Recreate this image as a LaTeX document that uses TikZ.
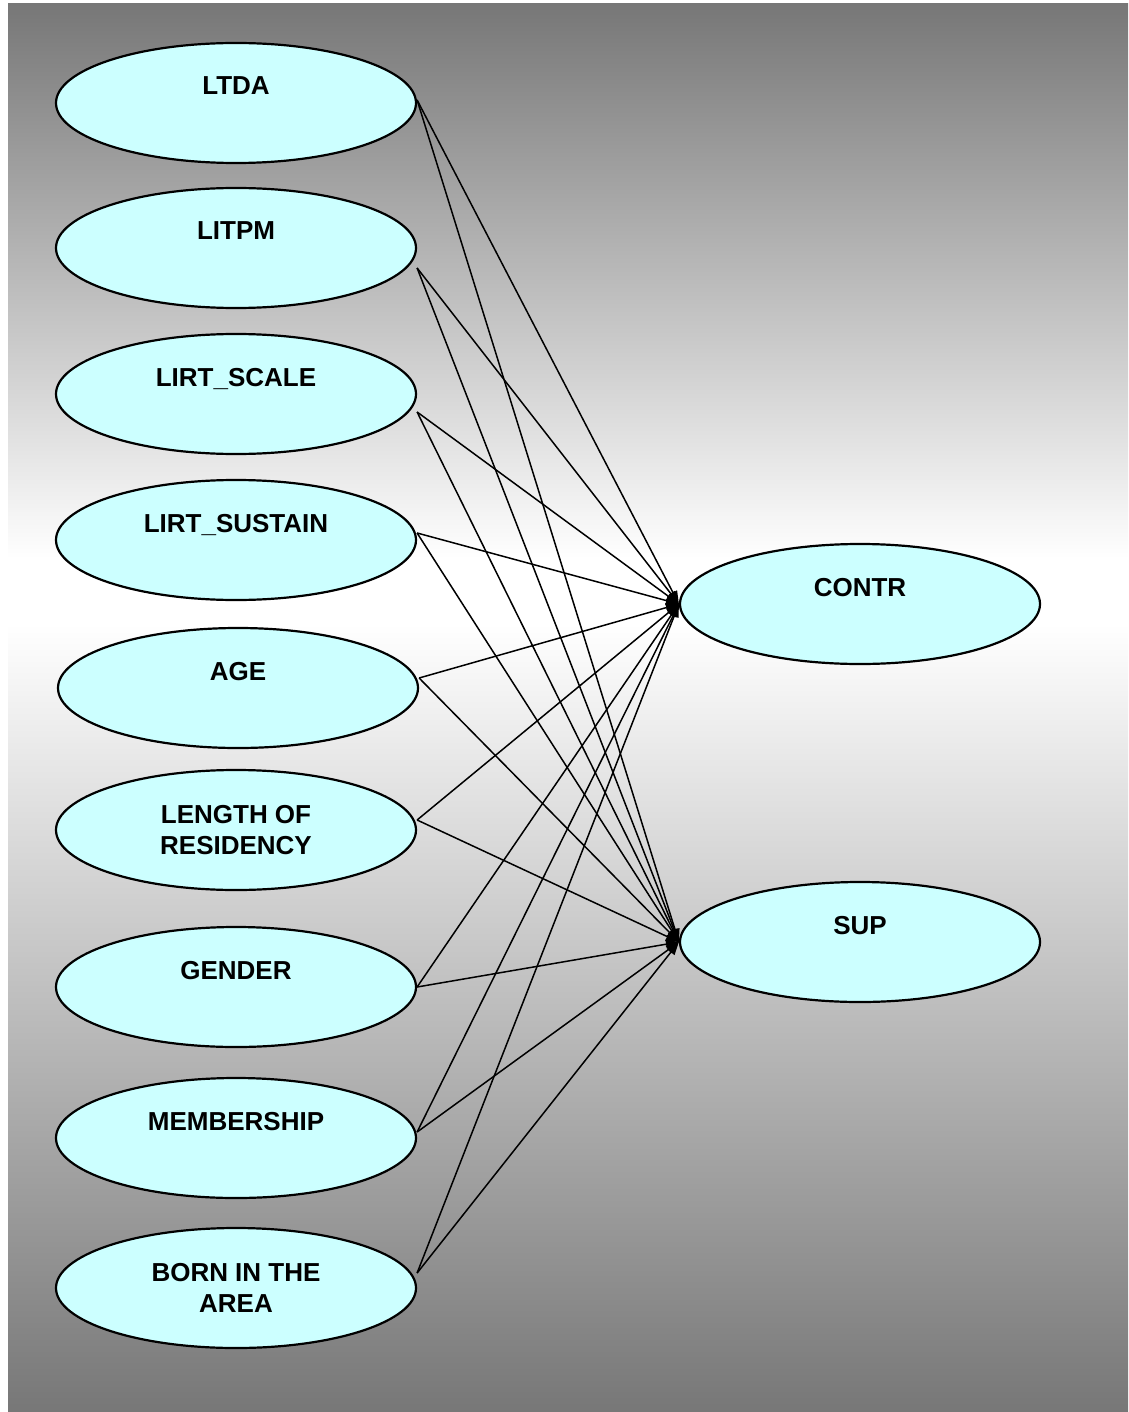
\documentclass[tikz,border=0pt]{standalone}
\usepackage{fontspec}
\setmainfont{Liberation Sans}
\usetikzlibrary{shapes.geometric,arrows.meta}
\definecolor{bggray}{RGB}{119,119,119}
\definecolor{nodefill}{RGB}{204,255,255}
% the path's box is mapped onto the 25bp--75bp band of the shading
\pgfdeclareverticalshading{bgshade}{100bp}{color(0bp)=(bggray); color(25bp)=(bggray); color(53bp)=(white); color(55.3bp)=(white); color(75bp)=(bggray); color(100bp)=(bggray)}
\begin{document}
\begin{tikzpicture}[x=1pt,y=-1pt,
  var/.style={ellipse, draw=black, line width=2.2pt, fill=nodefill,
    minimum width=360pt, minimum height=120pt, inner sep=0pt,
    align=center, font=\fontsize{26pt}{31pt}\selectfont\bfseries},
  path/.style={line width=1.5pt, -{Triangle[length=13pt,width=9pt]}}]
\useasboundingbox (0,0) rectangle (1128,1412);
\fill[white] (0,0) rectangle (1128,1412);
\shade[shading=bgshade] (8,4) rectangle (1128,1412);

\node[var] (ltda) at (236,103) {LTDA\\[3pt]\phantom{X}};
\node[var] (litpm) at (236,248) {LITPM\\[3pt]\phantom{X}};
\node[var] (scale) at (236,394) {LIRT\_SCALE\\[3pt]\phantom{X}};
\node[var] (sustain) at (236,540) {LIRT\_SUSTAIN\\[3pt]\phantom{X}};
\node[var] (age) at (238,688) {AGE\\[3pt]\phantom{X}};
\node[var] (length) at (236,830) {LENGTH OF\\RESIDENCY};
\node[var] (gender) at (236,987) {GENDER\\[3pt]\phantom{X}};
\node[var] (member) at (236,1138) {MEMBERSHIP\\[3pt]\phantom{X}};
\node[var] (born) at (236,1288) {BORN IN THE\\AREA};
\node[var] (contr) at (860,604) {CONTR\\[3pt]\phantom{X}};
\node[var] (sup) at (860,942) {SUP\\[3pt]\phantom{X}};

\foreach \src/\dy in {ltda/3, litpm/-20, scale/-18, sustain/7, age/10,
                      length/10, gender/0, member/6, born/15} {
  \draw[path] ([yshift=\dy pt]\src.east) -- (contr.west);
  \draw[path] ([yshift=\dy pt]\src.east) -- (sup.west);
}
\end{tikzpicture}
\end{document}
